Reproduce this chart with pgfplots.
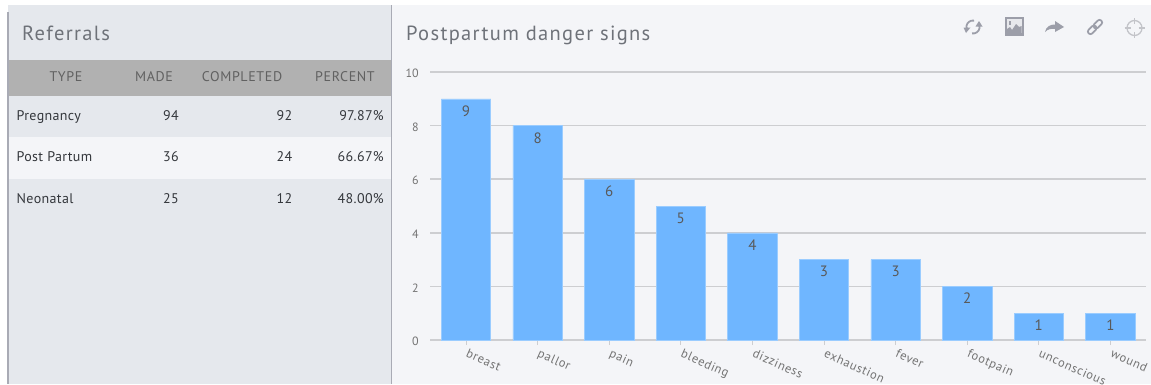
\documentclass[border=0pt]{standalone}
\usepackage{fontspec}
\setmainfont{PT Sans}
\usepackage{pgfplots}
\pgfplotsset{compat=1.18}
\usepackage{pgfplotstable}
\definecolor{panelA}{HTML}{E5E8ED}
\definecolor{panelB}{HTML}{F4F5F8}
\definecolor{headband}{HTML}{B1B1B1}
\definecolor{divider}{HTML}{A9ABB5}
\definecolor{barblue}{HTML}{6FB6FF}
\definecolor{gridgrey}{HTML}{CDCED1}
\definecolor{titlegrey}{HTML}{6E7279}
\definecolor{icongrey}{HTML}{9C9EA9}
\definecolor{bodytext}{HTML}{34373C}
\pgfplotstableread{
idx value
0 9
1 8
2 6
3 5
4 4
5 3
6 3
7 2
8 1
9 1
}\dangersigns
\newcommand{\titlefont}{\fontsize{20.5}{23}\selectfont\addfontfeatures{LetterSpace=6.5}}
\newcommand{\cellfont}{\fontsize{14}{16}\selectfont\addfontfeatures{LetterSpace=2.5}}
\newcommand{\headfont}{\fontsize{14}{16}\selectfont\addfontfeatures{LetterSpace=4.5}}
\begin{document}
\begin{tikzpicture}
\clip (0,0) rectangle (1151pt,-384pt);
\fill[white] (0,0) rectangle (1151pt,-384pt);
\begin{scope}[x=1pt,y=-1pt,every node/.style={inner sep=0pt}]
  % panels
  \fill[panelA] (8,5) rectangle (391,384);
  \fill[panelB] (392,5) rectangle (1151,384);
  \fill[divider] (7,12) rectangle (8.5,384);
  \fill[divider] (390.5,5) rectangle (392,384);
  % table bands
  \fill[headband] (8.5,60) rectangle (390.5,95.5);
  \fill[panelB] (8.5,137) rectangle (390.5,179);
  % titles
  \node[anchor=base west,text=titlegrey,font=\titlefont] at (22,40) {Referrals};
  \node[anchor=base west,text=titlegrey,font=\titlefont] at (406,40) {Postpartum danger signs};
  % table header
  \foreach \x/\t in {66/TYPE,154/MADE,242/COMPLETED,345/PERCENT}
    \node[text=black!62,font=\headfont,anchor=base] at (\x,81) {\t};
  % table rows
  \foreach \y/\a/\b/\c/\d in {120/Pregnancy/94/92/97.87\%,161/Post Partum/36/24/66.67\%,203/Neonatal/25/12/48.00\%}{
    \node[anchor=base west,text=bodytext,font=\cellfont] at (16.5,\y) {\a};
    \node[anchor=base east,text=bodytext,font=\cellfont] at (179,\y) {\b};
    \node[anchor=base east,text=bodytext,font=\cellfont] at (292.5,\y) {\c};
    \node[anchor=base east,text=bodytext,font=\cellfont] at (384,\y) {\d};
  }
  % toolbar: refresh
  \draw[icongrey,line width=1.8pt] (974,20.6) arc[start angle=280,end angle=160,radius=6.5];
  \fill[icongrey] (963.5,27.5) -- (970.5,27.5) -- (966,33) -- cycle;
  \draw[icongrey,line width=1.8pt] (972,33.4) arc[start angle=100,end angle=-20,radius=6.5];
  \fill[icongrey] (975.5,26.5) -- (982.5,26.5) -- (979,21) -- cycle;
  % toolbar: image
  \fill[icongrey] (1005,17) rectangle (1023.5,35.5);
  \fill[panelB!85!icongrey] (1007,19) rectangle (1021.5,33);
  \fill[icongrey] (1007,33) -- (1007,29) -- (1010,27) -- (1012,30) -- (1016,24) -- (1019,27) -- (1021.5,26) -- (1021.5,33) -- cycle;
  \fill[icongrey] (1009,21) rectangle (1010.5,25);
  % toolbar: share arrow
  \fill[icongrey] (1045,32) .. controls (1046,26) and (1051,24.5) .. (1055,24.5)
    -- (1055,21) -- (1064,27) -- (1055,32) -- (1055,29)
    .. controls (1051,28.5) and (1048,29) .. (1045,32) -- cycle;
  % toolbar: link
  \begin{scope}[shift={(1095,27)},rotate=45]
    \draw[icongrey,line width=1.7pt,rounded corners=2.5pt] (-9,-2.6) rectangle (1,2.6);
    \draw[icongrey,line width=1.7pt,rounded corners=2.5pt] (-1,-2.6) rectangle (9,2.6);
  \end{scope}
  % toolbar: crosshair
  \draw[gridgrey!80!icongrey,line width=1.3pt] (1134.5,28) circle[radius=7.5];
  \draw[gridgrey!80!icongrey,line width=1.3pt] (1134.5,18) -- (1134.5,24) (1134.5,32) -- (1134.5,38)
    (1124.5,28) -- (1130.5,28) (1138.5,28) -- (1144.5,28);
\end{scope}
\begin{axis}[
  at={(430.2pt,-340pt)}, anchor=south west,
  scale only axis, width=716pt, height=268pt,
  xmin=-0.5, xmax=9.5, ymin=0, ymax=10,
  axis x line*=bottom, axis y line*=left,
  y axis line style={draw=none},
  x axis line style={draw=gridgrey,line width=1.5pt,-},
  ytick={0,2,4,6,8,10},
  ymajorgrids, grid style={draw=gridgrey,line width=1.5pt},
  ytick style={draw=none},
  xtick=data,
  xticklabels={breast,pallor,pain,bleeding,dizziness,exhaustion,fever,footpain,unconscious,wound},
  x tick style={draw=gridgrey,line width=1pt},
  tick align=outside, major tick length=5pt,
  xticklabel style={rotate=-24,anchor=north west,font=\fontsize{12.5}{14}\selectfont\addfontfeatures{LetterSpace=5},text=black!55,xshift=3pt,yshift=-1pt,inner sep=1pt},
  yticklabel style={font=\fontsize{12}{14}\selectfont,text=black!55,yshift=-1.5pt,xshift=-3pt},
  /pgf/number format/assume math mode=true,
  ybar, bar width=49.5pt,
  nodes near coords,
  every node near coord/.append style={anchor=north,yshift=-4.5pt,font=\fontsize{15}{17}\selectfont,text=black!65,inner sep=2pt},
  clip=false,
]
\addplot[fill=barblue,draw=barblue!70!white,line width=0.6pt] table[x=idx,y=value] {\dangersigns};
\end{axis}
\end{tikzpicture}
\end{document}
